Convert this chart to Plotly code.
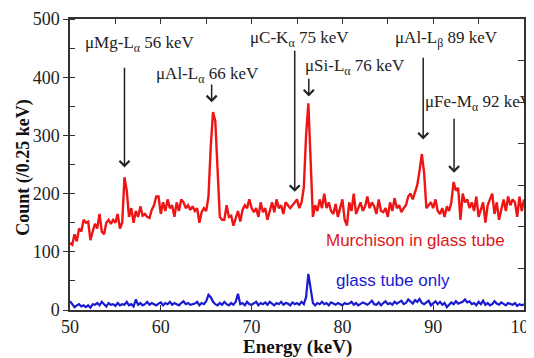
import numpy as np
import plotly.graph_objects as go

# Energy bins (0.25 keV width) from 50 to 100 keV
E_START = 50.0
E_BIN = 0.25

murchison = [
    115, 112, 130, 118,  140, 135, 155, 150,  152, 120, 135, 148,  140, 165, 135, 130,
    150, 155, 148, 155,  150, 165, 140, 150,  228, 205, 160, 175,  150, 170, 160, 178,
    162, 165, 160, 158,  172, 180, 195, 195,  165, 185, 170, 190,  175, 180, 160, 185,
    170, 190, 185, 175,  180, 172, 178, 170,  175, 150, 168, 175,  170, 195, 280, 340,
    325, 230, 160, 155,  155, 180, 160, 162,  145, 158, 170, 152,  172, 180, 175, 190,
    175, 168, 175, 160,  185, 168, 175, 155,  170, 185, 168, 190,  175, 180, 165, 185,
    180, 175, 180, 185,  190, 175, 185, 210,  300, 355, 260, 160,  180, 170, 190, 175,
    200, 175, 185, 170,  165, 182, 160, 175,  190, 155, 145, 185,  170, 200, 165, 175,
    185, 170, 178, 195,  175, 185, 178, 165,  190, 170, 168, 175,  160, 185, 170, 192,
    175, 180, 168, 175,  180, 195, 200, 190,  205, 215, 240, 268,  235, 175, 180, 185,
    175, 190, 170, 165,  175, 160, 178, 170,  185, 220, 205, 210,  155, 200, 185, 190,
    175, 185, 170, 195,  160, 175, 185, 150,  180, 190, 200, 165,  185, 155, 175, 190,
    170, 195, 180, 190,  185, 160, 195, 170,  190,
]

glass = [
    15, 10, 5, 8,  10, 6, 8, 5,  8, 4, 10, 9,  12, 8, 14, 10,  6, 12, 9, 10,
    7, 12, 8, 10,  9, 14, 8, 10,  6, 18, 9, 12,  8, 10, 14, 9,  12, 10, 8, 11,
    13, 8, 12, 10,  14, 9, 12, 10,  8, 12, 15, 10,  12, 9, 10, 11,  14, 8, 12, 10,
    15, 26, 22, 14,  10, 8, 12, 9,  14, 10, 8, 12,  9, 14, 28, 10,  12, 8, 14, 10,
    9, 12, 14, 8,  12, 10, 13, 9,  14, 11, 8, 12,  10, 14, 9, 12,  11, 8, 13, 10,
    12, 9, 14, 10,  22, 62, 40, 12,  8, 12, 10, 14,  10, 12, 8, 13,  11, 9, 12, 10,
    8, 12, 10, 11,  14, 9, 12, 8,  10, 13, 11, 9,  12, 16, 10, 9,  13, 8, 12, 15,
    10, 12, 9, 14,  11, 13, 16, 10,  12, 18, 14, 11,  17, 14, 19, 12,  10, 13, 16, 8,
    12, 15, 10, 14,  9, 12, 5, 10,  13, 10, 15, 11,  12, 14, 18, 13,  15, 10, 12, 8,
    14, 10, 16, 9,  12, 8, 10, 15,  11, 9, 13, 10,  8, 12, 10, 9,  12, 7, 10, 8,
    10,
]

energy = E_START + E_BIN * np.arange(len(murchison))

# Line labels: (text, arrow energy, arrow tail count, arrow tip count, text x, text y)
labels = [
    ("μMg-L<sub>α</sub> 56 keV", 56.0, 419, 245, 57.7, 457),
    ("μAl-L<sub>α</sub> 66 keV", 65.6, 390, 357, 65.1, 403),
    ("μC-K<sub>α</sub> 75 keV", 74.75, 448, 203, 75.3, 466),
    ("μSi-L<sub>α</sub> 76 keV", 76.3, 400, 367, 81.4, 417),
    ("μAl-L<sub>β</sub> 89 keV", 88.9, 436, 293, 91.5, 466),
    ("μFe-M<sub>α</sub> 92 keV", 92.3, 331, 236, 95.0, 355),
]

serif = "Liberation Serif"
sans = "Liberation Sans"

fig = go.Figure()
fig.add_trace(go.Scatter(x=energy, y=murchison, mode="lines",
                         line=dict(color="#ee1515", width=2.4), showlegend=False))
fig.add_trace(go.Scatter(x=energy, y=glass, mode="lines",
                         line=dict(color="#1a1ad0", width=2.2), showlegend=False))
# dummy trace to activate top/right tick axes
fig.add_trace(go.Scatter(x=[None], y=[None], xaxis="x2", yaxis="y2",
                         showlegend=False, hoverinfo="skip"))

annotations = []
for text, xe, y_tail, y_tip, tx, ty in labels:
    annotations.append(dict(x=xe, y=y_tip, ax=xe, ay=y_tail, xref="x", yref="y",
                            axref="x", ayref="y", showarrow=True, arrowhead=4,
                            arrowsize=1.3, arrowwidth=1.5, arrowcolor="#222", text=""))
    annotations.append(dict(x=tx, y=ty, xref="x", yref="y", text=text, showarrow=False,
                            font=dict(family=serif, size=17, color="#222"),
                            xanchor="center", yanchor="middle"))

annotations.append(dict(x=88.0, y=119, xref="x", yref="y", text="Murchison in glass tube",
                        showarrow=False, font=dict(family=sans, size=17, color="#e01818"),
                        xanchor="center", yanchor="middle"))
annotations.append(dict(x=85.6, y=50, xref="x", yref="y", text="glass tube only",
                        showarrow=False, font=dict(family=sans, size=17, color="#1a1ad0"),
                        xanchor="center", yanchor="middle"))
annotations.append(dict(x=-0.103, y=0.49, xref="paper", yref="paper",
                        text="<b>Count (/0.25 keV)</b>", textangle=-90, showarrow=False,
                        font=dict(family=serif, size=18, color="#111"),
                        xanchor="center", yanchor="middle"))
annotations.append(dict(x=0.5, y=-0.127, xref="paper", yref="paper",
                        text="<b>Energy (keV)</b>", showarrow=False,
                        font=dict(family=serif, size=19, color="#111"),
                        xanchor="center", yanchor="middle"))

# page body adds an 8px offset, so the figure is sized to fill the rest of the window
fig.update_layout(
    template="none",
    width=526, height=350,
    margin=dict(l=62, r=10, t=11, b=48, autoexpand=False),
    paper_bgcolor="white", plot_bgcolor="white",
    annotations=annotations,
    xaxis=dict(range=[50, 100], tickvals=[50, 60, 70, 80, 90, 100], ticks="inside",
               ticklen=5, tickcolor="#333", showline=True, linecolor="#333", linewidth=1.5,
               mirror=True, showgrid=False, zeroline=False, automargin=False,
               ticklabeloverflow="allow",
               tickfont=dict(family=serif, size=18, color="#222")),
    yaxis=dict(range=[0, 500], tickvals=[0, 100, 200, 300, 400, 500], ticks="outside",
               ticklen=5, tickcolor="#333", showline=True, linecolor="#333", linewidth=1.5,
               mirror=True, showgrid=False, zeroline=False, automargin=False,
               minor=dict(dtick=50, ticks="inside", ticklen=5, tickcolor="#333", showgrid=False),
               tickfont=dict(family=serif, size=18, color="#222")),
    xaxis2=dict(overlaying="x", side="top", range=[50, 100], dtick=5, ticks="inside",
                ticklen=5, tickcolor="#333", showticklabels=False, showgrid=False,
                zeroline=False, showline=False, automargin=False),
    yaxis2=dict(overlaying="y", side="right", range=[0, 700], dtick=100, ticks="inside",
                ticklen=6, tickcolor="#333", showticklabels=False, showgrid=False,
                zeroline=False, showline=False, automargin=False),
)

fig.write_html("out.html")
